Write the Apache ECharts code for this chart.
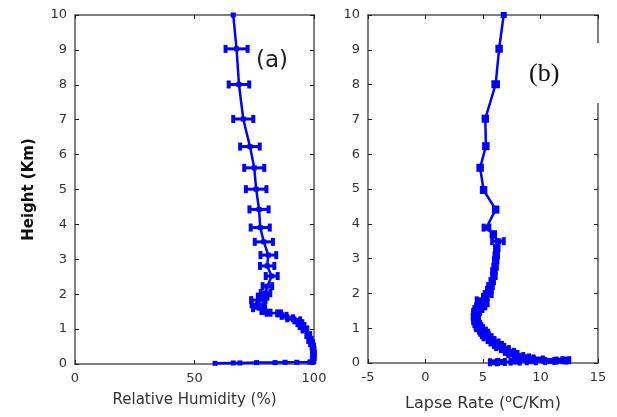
<!DOCTYPE html>
<html><head><meta charset="utf-8">
<script src="https://cdn.jsdelivr.net/npm/echarts@6/dist/echarts.min.js"></script>
<style>html,body{margin:0;padding:0;background:#fff}#c{width:617px;height:417px}</style>
</head><body><div id="c"></div>
<script>
// Panel (a): Relative Humidity vs Height
const rhHeight = [0.02,0.03,0.03,0.04,0.04,0.05,0.05,0.06,0.1,0.2,0.3,0.4,0.5,0.6,0.69,0.83,0.99,1.09,1.17,1.25,1.31,1.38,1.45,1.47,1.52,1.6,1.71,1.83,1.93,2.03,2.23,2.52,2.81,3.12,3.5,3.91,4.43,5.01,5.62,6.23,7.02,8.01,9.03,10];
const rhValue  = [58.6,66.2,69.0,76.0,83.7,87.9,92.8,98.3,99.6,99.8,99.8,99.7,99.5,99.0,98.3,97.6,96.2,95.0,94.1,93.0,90.0,87.5,85.4,81.0,78.5,77.0,76.4,76.7,78.5,79.7,80.5,82.3,80.4,80.9,79.0,77.5,77.0,75.8,75.0,73.2,70.4,68.6,67.6,66.2];
const rhErr    = [0,0,0,0,0,0,0,0,0.5,0.5,0.5,0.5,0.5,0.6,0.7,0.8,1,1,1,1.2,1.2,1,0.8,0.8,0.5,2.5,2.5,3,2,2,2,2.5,3,3.3,3.8,4,4,4.3,4.2,4.1,4.2,4.3,4.6,0];
// Panel (b): Lapse rate vs Height
const lrHeight = [0.02,0.03,0.04,0.05,0.06,0.07,0.08,0.1,0.13,0.16,0.2,0.26,0.32,0.4,0.46,0.52,0.59,0.66,0.74,0.8,0.87,0.93,1.0,1.06,1.12,1.2,1.27,1.33,1.4,1.47,1.55,1.63,1.72,1.8,1.9,1.98,2.1,2.21,2.35,2.5,2.64,2.77,2.95,3.09,3.3,3.5,3.7,3.89,4.41,4.97,5.61,6.23,7.02,8.01,9.03,10];
const lrValue  = [5.9,6.6,7.8,9.2,10.8,11.8,12.2,9.8,9.0,8.6,8.1,7.6,7.3,6.9,6.5,6.3,6.0,5.7,5.4,5.2,5.1,4.95,4.7,4.6,4.5,4.4,4.35,4.35,4.4,4.45,4.6,4.8,5.1,4.8,5.2,5.45,5.55,5.65,5.8,5.95,5.95,6.05,6.1,6.15,6.2,6.3,5.9,5.3,6.1,5.05,4.75,5.25,5.2,6.1,6.4,6.8];
const lrErr    = [0.3,0.3,0.4,0.4,0.4,0.4,0.3,0.4,0.4,0.4,0.4,0.4,0.4,0.35,0.35,0.35,0.35,0.3,0.35,0.3,0.35,0.3,0.3,0.25,0.25,0.25,0.2,0.25,0.25,0.3,0.35,0.4,0.3,0.35,0.2,0.3,0.2,0.2,0.15,0.15,0.15,0.15,0.15,0.15,0.15,0.5,0.15,0.25,0.15,0.15,0.15,0.15,0.15,0.2,0.15,0];
const yTicks = [0,1,2,3,4,5,6,7,8,9,10];

const blue = '#0000ff';
const frame = '#555555';
const lblFont = {color:'#333', fontSize:13, fontFamily:'DejaVu Sans'};

function pts(xs, ys){ return xs.map((v,i)=>[v, ys[i]]); }
function errPts(xs, ys, es){ return xs.map((v,i)=>[v, ys[i], es[i]]).filter(d=>d[2]>0); }

function renderErr(params, api){
  const x = api.value(0), y = api.value(1), e = api.value(2);
  const p1 = api.coord([x-e, y]), p2 = api.coord([x+e, y]);
  const st = {stroke: blue, lineWidth: 3};
  return {type:'group', children:[
    {type:'line', shape:{x1:p1[0],y1:p1[1],x2:p2[0],y2:p2[1]}, style:st},
    {type:'rect', shape:{x:p1[0]-2,y:p1[1]-4,width:4,height:8}, style:{fill:blue}},
    {type:'rect', shape:{x:p2[0]-2,y:p2[1]-4,width:4,height:8}, style:{fill:blue}}
  ]};
}

function xAx(grid, min, max, interval, name, show, gap){
  return {type:'value', gridIndex:grid, min:min, max:max, interval:interval, position: show?'bottom':'top',
    name: show?name:'', nameLocation:'middle', nameGap:gap||28,
    nameTextStyle:{color:'#333', fontSize:15, fontFamily:'DejaVu Sans', rich:{sup:{fontSize:11, verticalAlign:'top', padding:[0,0,9,0], color:'#333', fontFamily:'DejaVu Sans'}, n:{fontSize:16,color:'#333',fontFamily:'DejaVu Sans'}}},
    axisLine:{show:true, onZero:false, lineStyle:{color:frame, width:1.5}},
    axisTick:{show:true, inside:true, length:4, lineStyle:{color:'#222'}},
    axisLabel:Object.assign({show:show, margin:8}, lblFont),
    splitLine:{show:false}};
}
function yAx(grid, show, name){
  return {type:'value', gridIndex:grid, min:0, max:10, interval:1, position: show?'left':'right',
    name: name||'', nameLocation:'middle', nameGap:38,
    nameTextStyle:{color:'#111', fontSize:15, fontWeight:'bold', fontFamily:'DejaVu Sans'},
    axisLine:{show:true, onZero:false, lineStyle:{color:frame, width:1.5}},
    axisTick:{show:true, inside:true, length:4, lineStyle:{color:'#222'}},
    axisLabel:Object.assign({show:show, margin:8, formatter: v=> yTicks.includes(v)? String(v):''}, lblFont),
    splitLine:{show:false}};
}

const chart = echarts.init(document.getElementById('c'), null, {renderer:'canvas'});
chart.setOption({
  animation:false,
  backgroundColor:'#fff',
  grid:[{left:75, right:303, top:15, bottom:53}, {left:368, right:19, top:15, bottom:53}],
  xAxis:[xAx(0,0,100,50,'Relative Humidity (%)',true,29), xAx(0,0,100,50,'',false),
         xAx(1,-5,15,5,'{n|Lapse Rate (}{sup|o}{n|C/Km)}',true,31), xAx(1,-5,15,5,'',false)],
  yAxis:[yAx(0,true,'Height (Km)'), yAx(0,false), yAx(1,true), yAx(1,false)],
  graphic:[
    {type:'rect', shape:{x:520,y:43,width:97,height:60}, style:{fill:'#fff'}, z:100},
    {type:'text', left:256, top:50, style:{text:'(a)', fontSize:23, fontFamily:'DejaVu Sans', fill:'#222'}, z:101},
    {type:'text', left:529, top:61, style:{text:'(b)', fontSize:26, fontFamily:'Liberation Serif', fill:'#111'}, z:101}
  ],
  series:[
    {type:'line', xAxisIndex:0, yAxisIndex:0, data:pts(rhValue, rhHeight), symbol:'rect', symbolSize:5,
     lineStyle:{color:blue, width:2.5}, itemStyle:{color:blue}},
    {type:'custom', xAxisIndex:0, yAxisIndex:0, data:errPts(rhValue, rhHeight, rhErr), renderItem:renderErr, encode:{x:0,y:1}},
    {type:'line', xAxisIndex:2, yAxisIndex:2, data:pts(lrValue, lrHeight), symbol:'rect', symbolSize:6,
     lineStyle:{color:blue, width:2.5}, itemStyle:{color:blue}},
    {type:'custom', xAxisIndex:2, yAxisIndex:2, data:errPts(lrValue, lrHeight, lrErr), renderItem:renderErr, encode:{x:0,y:1}}
  ]
});
</script></body></html>
